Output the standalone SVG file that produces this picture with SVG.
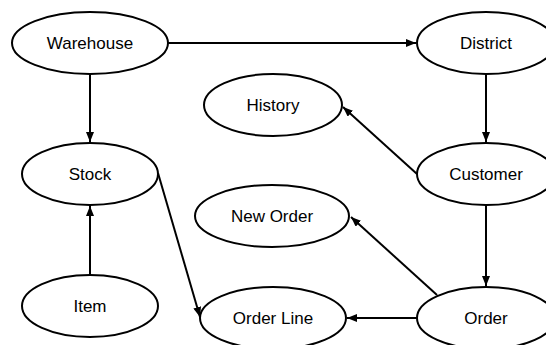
<svg xmlns="http://www.w3.org/2000/svg" width="546" height="345" viewBox="0 0 546 345">
<defs>
<marker id="ah" markerWidth="10" markerHeight="8" refX="10" refY="4" orient="auto" markerUnits="userSpaceOnUse">
<path d="M0,0 L10,4 L0,8 Z" fill="#000"/>
</marker>
<style>
.n ellipse{fill:#fff;stroke:#000;stroke-width:2}
.n text{font-family:"Liberation Sans",Arial,sans-serif;font-size:17px;fill:#000;text-anchor:middle}
.e line{stroke:#000;stroke-width:2;marker-end:url(#ah)}
</style>
</defs>
<rect width="546" height="345" fill="#fff"/>
<g class="e" id="connectors">
<line x1="168" y1="43" x2="416" y2="43"/>
<line x1="90" y1="74" x2="90" y2="142"/>
<line x1="486" y1="74" x2="486" y2="142"/>
<line x1="417" y1="174" x2="343" y2="107"/>
<line x1="486" y1="205" x2="486" y2="286"/>
<line x1="437" y1="295" x2="351" y2="217"/>
<line x1="417" y1="318" x2="347" y2="318"/>
<line x1="90" y1="275" x2="90" y2="206"/>
<line x1="158" y1="173" x2="200" y2="317"/>
</g>
<g class="n" id="warehouse"><ellipse cx="90" cy="43" rx="78" ry="31"/><text x="90" y="49">Warehouse</text></g>
<g class="n" id="district"><ellipse cx="486" cy="43" rx="69" ry="31"/><text x="486" y="49">District</text></g>
<g class="n" id="history"><ellipse cx="273" cy="105" rx="69" ry="31"/><text x="273" y="111">History</text></g>
<g class="n" id="stock"><ellipse cx="90" cy="174" rx="68" ry="31"/><text x="90" y="180">Stock</text></g>
<g class="n" id="customer"><ellipse cx="486" cy="174" rx="69" ry="31"/><text x="486" y="180">Customer</text></g>
<g class="n" id="neworder"><ellipse cx="272" cy="216" rx="77" ry="31"/><text x="272" y="222">New Order</text></g>
<g class="n" id="item"><ellipse cx="90" cy="306" rx="68" ry="31"/><text x="90" y="312">Item</text></g>
<g class="n" id="orderline"><ellipse cx="273" cy="318" rx="73" ry="31"/><text x="273" y="324">Order Line</text></g>
<g class="n" id="order"><ellipse cx="486" cy="318" rx="69" ry="31"/><text x="486" y="324">Order</text></g>
</svg>
